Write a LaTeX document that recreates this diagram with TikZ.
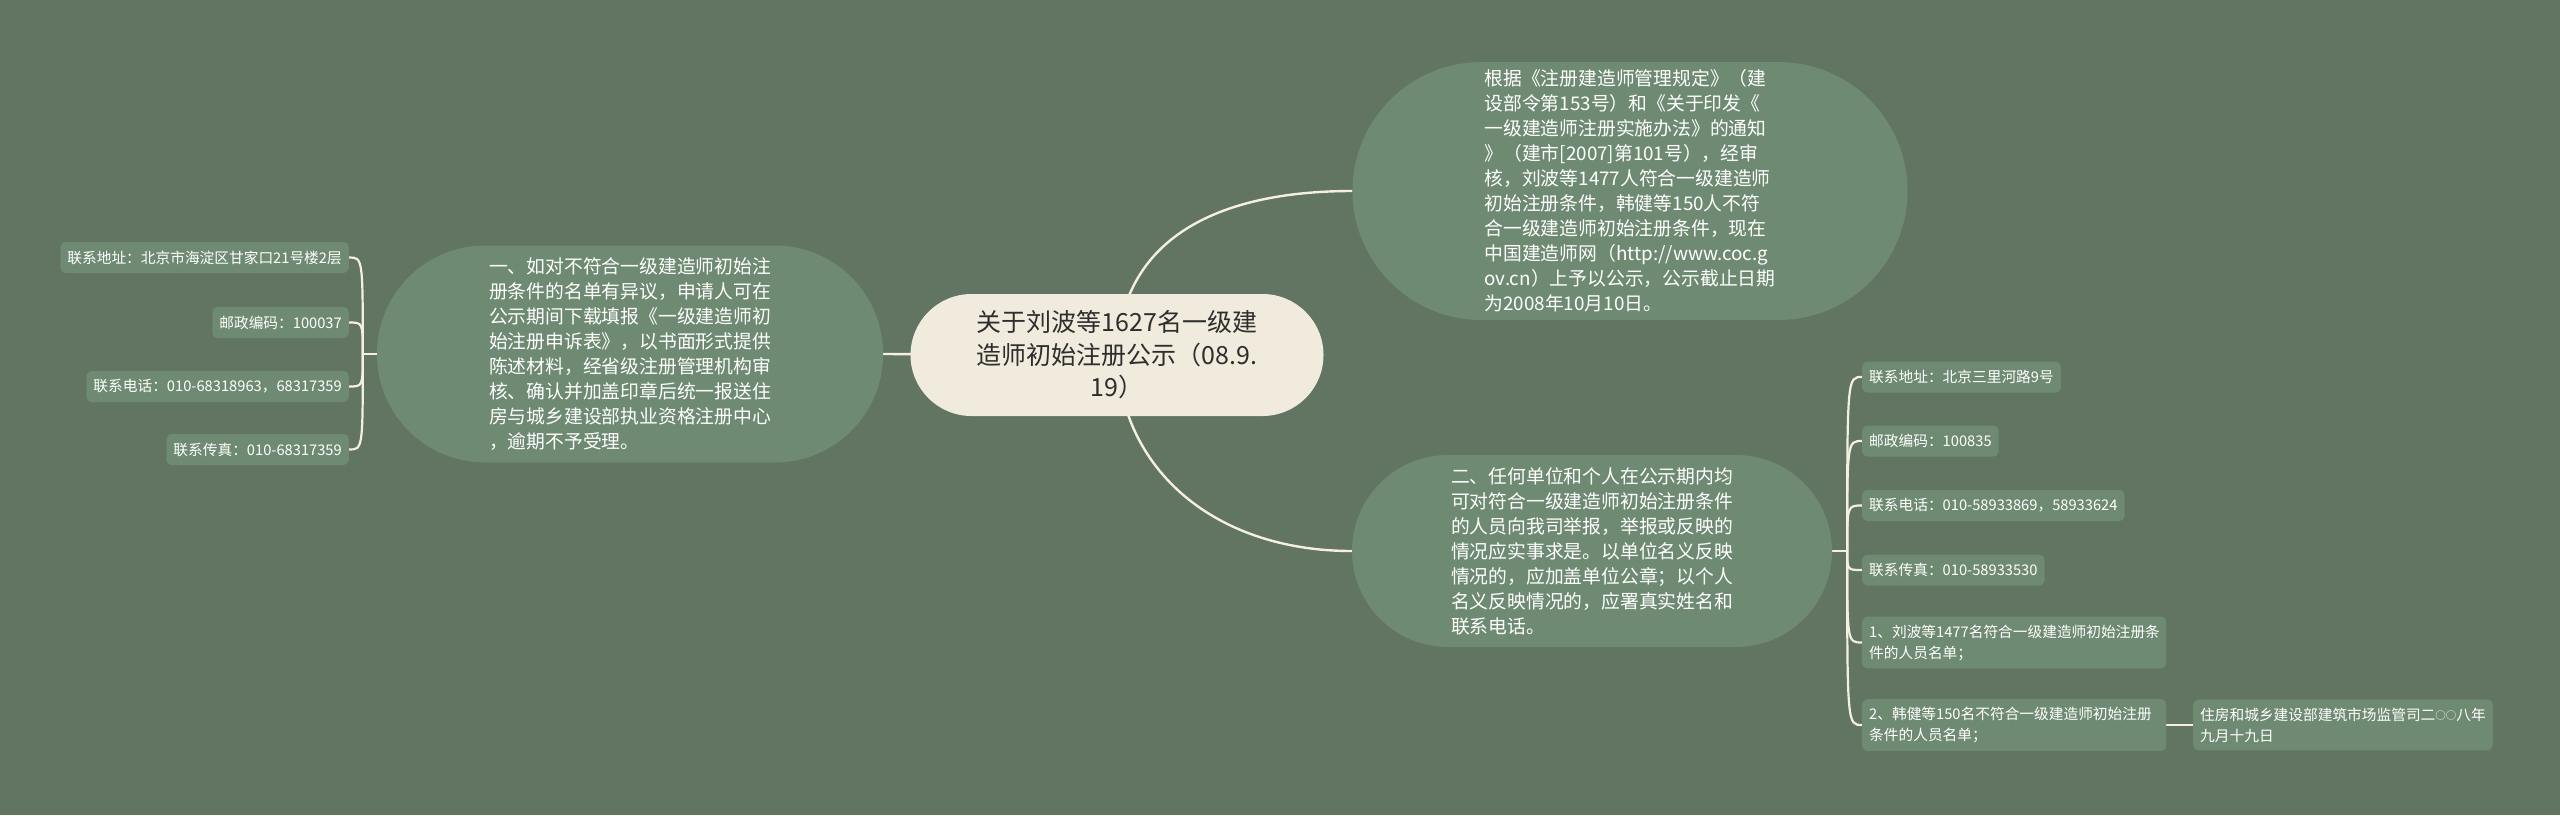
\documentclass[tikz,border=0pt]{standalone}
\usepackage{fontspec}
\setmainfont{Noto Sans CJK SC}
\usetikzlibrary{calc}
\definecolor{bgc}{HTML}{627563}
\definecolor{nodefill}{HTML}{6E8A72}
\definecolor{centerfill}{HTML}{F0EBDC}
\definecolor{linecol}{HTML}{F4EFDF}
\definecolor{darktext}{HTML}{2E2E2E}
\pgfdeclarelayer{backdrop}
\pgfdeclarelayer{lines}
\pgfsetlayers{backdrop,lines,main}
\newcommand{\smallring}{{\fontsize{10.5}{10.5}\selectfont\raisebox{1pt}{○}}}
\tikzset{
  centernode/.style={fill=centerfill, text=darktext, align=center, inner sep=0pt,
    font=\fontsize{25}{32.6}\selectfont},
  bignode/.style={fill=nodefill, text=white, align=left, inner sep=0pt,
    font=\fontsize{18.8}{25}\selectfont},
  leafnode/.style={fill=nodefill, text=white, align=left, rounded corners=5pt,
    inner xsep=7pt, inner ysep=8pt, minimum height=31pt,
    font=\fontsize{14.7}{21}\selectfont},
  mainline/.style={draw=linecol, line width=2.4pt},
  leafline/.style={draw=linecol, line width=2.2pt},
}
\begin{document}
\begin{tikzpicture}[x=1pt,y=-1pt]
\begin{pgfonlayer}{backdrop}
\fill[bgc] (0,0) rectangle (2560,815);
\end{pgfonlayer}
\useasboundingbox (0,0) rectangle (2560,815);

% main nodes
\node[centernode, minimum width=413, minimum height=122, rounded corners=61] (c) at (1117,355)
  {关于刘波等1627名一级建\\造师初始注册公示（08.9.\\19）};
\node[bignode, minimum width=506, minimum height=217, rounded corners=108] (l) at (630,354)
  {一、如对不符合一级建造师初始注\\册条件的名单有异议，申请人可在\\公示期间下载填报《一级建造师初\\始注册申诉表》，以书面形式提供\\陈述材料，经省级注册管理机构审\\核、确认并加盖印章后统一报送住\\房与城乡建设部执业资格注册中心\\，逾期不予受理。};
\node[bignode, minimum width=555, minimum height=258, rounded corners=129] (t) at (1630,191)
  {根据《注册建造师管理规定》（建\\设部令第153号）和《关于印发《\\一级建造师注册实施办法》的通知\\》（建市[2007]第101号），经审\\核，刘波等1477人符合一级建造师\\初始注册条件，韩健等150人不符\\合一级建造师初始注册条件，现在\\中国建造师网（http://www.coc.g\\ov.cn）上予以公示，公示截止日期\\为2008年10月10日。};
\node[bignode, minimum width=480, minimum height=192, rounded corners=96] (b) at (1592,551)
  {二、任何单位和个人在公示期内均\\可对符合一级建造师初始注册条件\\的人员向我司举报，举报或反映的\\情况应实事求是。以单位名义反映\\情况的，应加盖单位公章；以个人\\名义反映情况的，应署真实姓名和\\联系电话。};

% left leaves
\node[leafnode, anchor=east] (la) at (349,257.5) {联系地址：北京市海淀区甘家口21号楼2层};
\node[leafnode, anchor=east] (lb) at (349,322.5) {邮政编码：100037};
\node[leafnode, anchor=east] (lc) at (349,386.5) {联系电话：010-68318963，68317359};
\node[leafnode, anchor=east] (ld) at (349,449.5) {联系传真：010-68317359};

% right leaves
\node[leafnode, anchor=west] (ra) at (1862,377) {联系地址：北京三里河路9号};
\node[leafnode, anchor=west] (rb) at (1862,441) {邮政编码：100835};
\node[leafnode, anchor=west] (rc) at (1862,505.5) {联系电话：010-58933869，58933624};
\node[leafnode, anchor=west] (rd) at (1862,570) {联系传真：010-58933530};
\node[leafnode, anchor=west, text width=290pt] (re) at (1862,642.5) {1、刘波等1477名符合一级建造师初始注册条\\件的人员名单；};
\node[leafnode, anchor=west, text width=290pt] (rf) at (1862,725) {2、韩健等150名不符合一级建造师初始注册\\条件的人员名单；};
\node[leafnode, anchor=west] (rg) at (2193,725) {住房和城乡建设部建筑市场监管司二\smallring\smallring 八年\\九月十九日};

\begin{pgfonlayer}{lines}
  \draw[mainline] (c.center) -- (l.east);
  \draw[mainline] (c.center) .. controls (1121,240) and (1215,191) .. (t.west);
  \draw[mainline] (c.center) .. controls (1121,470) and (1215,551) .. (b.west);
  % left bracket
  \coordinate (ls) at ($(l.west)+(-14,0)$);
  \draw[leafline] (l.west) -- (ls);
  \foreach \n in {la,lb,lc,ld}
    \draw[leafline] (ls) .. controls (ls |- \n.east) .. (\n.east);
  % right bracket
  \coordinate (rs) at ($(b.east)+(15,0)$);
  \draw[leafline] (b.east) -- (rs);
  \foreach \n in {ra,rb,rc,rd,re,rf}
    \draw[leafline] (rs) .. controls (rs |- \n.west) .. (\n.west);
  \draw[leafline] (rf.east) -- (rg.west);
\end{pgfonlayer}
\end{tikzpicture}
\end{document}
